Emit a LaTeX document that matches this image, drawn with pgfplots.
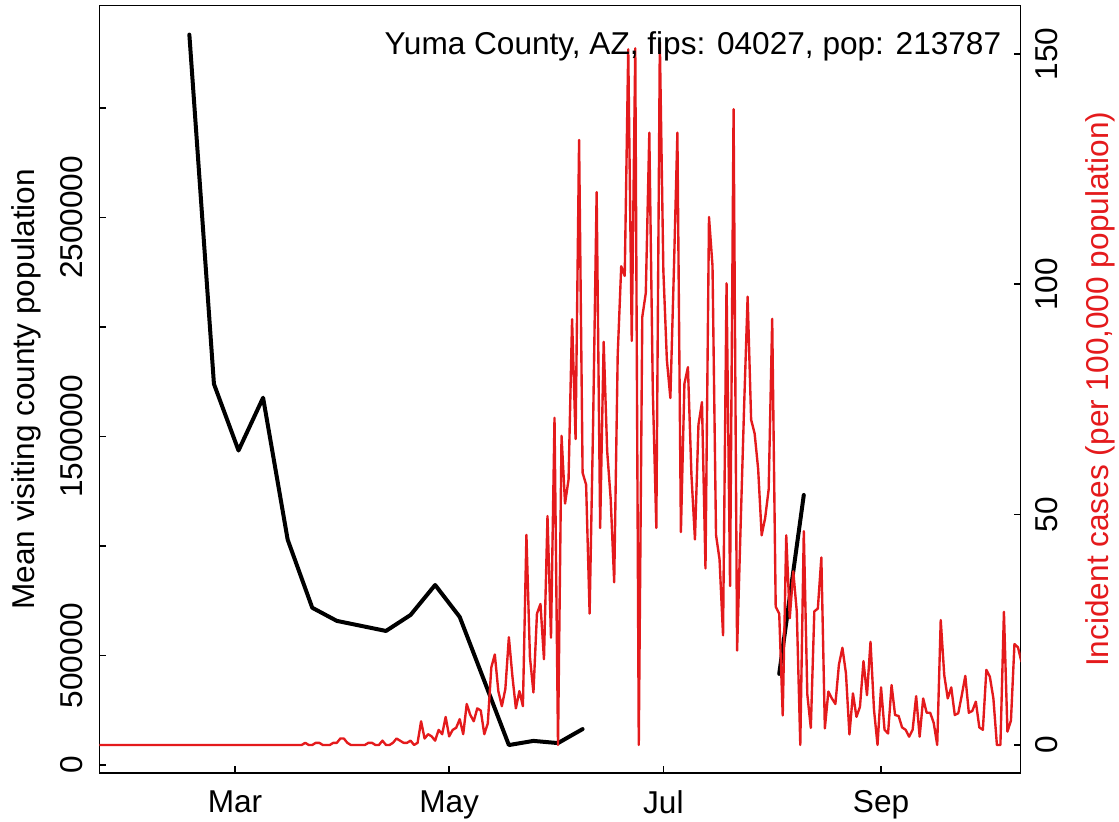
\documentclass[border=0pt]{standalone}
\usepackage{fontspec}
\setmainfont{Liberation Sans}
\usepackage{pgfplots}
\usepackage{pgfplotstable}
\pgfplotsset{compat=1.18}
\definecolor{casered}{HTML}{E41A1C}

% weekly mean visiting population (day of year 2020)
\pgfplotstableread{
day visits
48 3335000
55 1740000
62 1436000
69 1677000
76 1029000
83 718000
90 658000
97 635000
104 612000
111 685000
118 822000
125 676000
132 384000
139 91000
146 110000
153 100000
160 164000
167 nan
216 416000
223 1233000
}\visits

% daily incident cases per 100,000
\pgfplotstableread{
day cases
22 0
23 0
24 0
25 0
26 0
27 0
28 0
29 0
30 0
31 0
32 0
33 0
34 0
35 0
36 0
37 0
38 0
39 0
40 0
41 0
42 0
43 0
44 0
45 0
46 0
47 0
48 0
49 0
50 0
51 0
52 0
53 0
54 0
55 0
56 0
57 0
58 0
59 0
60 0
61 0
62 0
63 0
64 0
65 0
66 0
67 0
68 0
69 0
70 0
71 0
72 0
73 0
74 0
75 0
76 0
77 0
78 0
79 0
80 0
81 0.47
82 0
83 0
84 0.47
85 0.47
86 0
87 0
88 0
89 0.47
90 0.47
91 1.40
92 1.40
93 0.47
94 0
95 0
96 0
97 0
98 0
99 0.47
100 0.47
101 0
102 0
103 0.94
104 0
105 0
106 0.47
107 1.40
108 0.94
109 0.47
110 0.47
111 0.94
112 0
113 0.47
114 5.14
115 1.40
116 2.34
117 1.87
118 0.94
119 3.27
120 2.34
121 6.08
122 1.87
123 3.27
124 3.74
125 5.61
126 2.34
127 8.89
128 6.55
129 5.14
130 7.95
131 7.48
132 2.34
133 4.68
134 16.84
135 19.65
136 11.69
137 8.42
138 12.16
139 23.39
140 14.97
141 7.95
142 11.69
143 8.42
144 45.6
145 19.1
146 11.4
147 28.5
148 30.6
149 18.6
150 49.7
151 23.3
152 71.0
153 0
154 67.1
155 52.4
156 57.6
157 92.4
158 66.4
159 131.3
160 59.1
161 56.5
162 28.5
163 70
164 120
165 47.1
166 87.5
167 63.8
168 53.4
169 35.3
170 84.7
171 103.9
172 101.8
173 151.0
174 87.7
175 151.2
176 0
177 92.9
178 98.1
179 132.9
180 76.8
181 47.1
182 152.5
183 103
184 83.6
185 75.3
186 103
187 132.9
188 46.2
189 78.4
190 82
191 58.6
192 44.6
193 69.5
194 74.4
195 38.3
196 114.6
197 104
198 45.6
199 40.3
200 23.8
201 100.2
202 34.5
203 138
204 20.5
205 47.3
206 73.4
207 97.3
208 70.6
209 67.6
210 59.9
211 45.5
212 49.3
213 55.5
214 92.5
215 30
216 28.5
217 6.4
218 45.5
219 27.5
220 37.7
221 29
222 0
223 46.4
224 11
225 3.7
226 29
227 29.6
228 40.7
229 3.6
230 11.6
231 10.1
232 8.9
233 17.4
234 21.1
235 15.6
236 2.3
237 11.2
238 6.1
239 8.3
240 18.2
241 10.8
242 22.4
243 7.6
244 0
245 12.5
246 3.3
247 2.5
248 13.0
249 6.5
250 6.3
251 3.8
252 3.3
253 1.8
254 3.3
255 10.6
256 1.8
257 10.1
258 7.0
259 7.0
260 4.8
261 0
262 27.1
263 15.2
264 10.1
265 12.5
266 6.5
267 6.9
268 10.8
269 15.0
270 7.0
271 7.4
272 9.4
273 3.8
274 3.3
275 16.3
276 14.8
277 10.1
278 0
279 0
280 28.9
281 2.9
282 5.3
283 21.9
284 21.2
285 18
}\cases

\begin{document}
\fontsize{12.64}{15}\selectfont
\begin{tikzpicture}
\pgfplotsset{
  every axis/.append style={
    scale only axis, width=368.56pt, height=307pt,
    xmin=22.35, xmax=284.78,
    scaled x ticks=false, scaled y ticks=false,
    axis line style={line width=0.6pt},
    every tick/.style={black, line width=0.6pt},
    major tick length=2.8pt,
    tick label style={font=\fontsize{12.64}{15}\selectfont, inner sep=0pt},
  }
}
\begin{axis}[name=ax,
  ymin=-36530, ymax=3468037,
  tick align=inside,
  xtick={61,122,183,245}, xticklabels={Mar,May,Jul,Sep},
  xtick pos=bottom, ytick pos=left,
  ytick={0,500000,1000000,1500000,2000000,2500000,3000000},
  yticklabels={0,500000,,1500000,,2500000,},
  xticklabel style={anchor=north}, xticklabel shift=6.8pt,
  yticklabel style={rotate=90, anchor=base}, yticklabel shift=6.6pt,
  unbounded coords=jump,
]
\addplot[black, line width=1.6pt, line join=round, line cap=round] table[x=day, y=visits] {\visits};
\end{axis}
\begin{axis}[
  ymin=-6.08, ymax=160.5,
  axis x line=none, axis y line*=right,
  tick align=inside,
  ytick={0,50,100,150}, yticklabels={0,50,100,150},
  yticklabel style={rotate=90, anchor=base}, yticklabel shift=14.76pt,
]
\addplot[casered, line width=0.95pt, line join=round] table[x=day, y=cases] {\cases};
\end{axis}
\node[anchor=base east, inner sep=0pt] at ([xshift=-7.6pt, yshift=-19.8pt]ax.north east) {Yuma County, AZ, fips: 04027, pop: 213787};
\node[rotate=90, anchor=base, inner sep=0pt] at ([xshift=-26pt]ax.west) {Mean visiting county population};
\node[rotate=90, anchor=base, inner sep=0pt, text=casered] at ([xshift=35.3pt]ax.east) {Incident cases (per 100,000 population)};
\pgfresetboundingbox
\path[use as bounding box] ([shift={(-39.72pt,-19.6pt)}]ax.south west) rectangle ([shift={(39.32pt,2.2pt)}]ax.north east);
\end{tikzpicture}
\end{document}
